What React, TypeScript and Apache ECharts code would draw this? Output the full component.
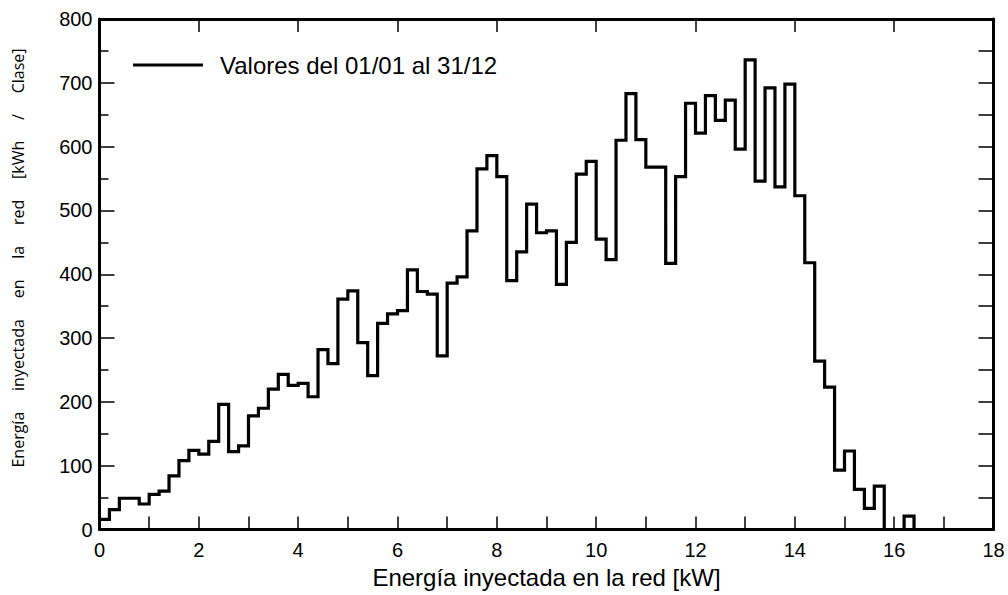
import React, { useEffect, useRef } from "react";
import * as echarts from "echarts";

// Histogram bins: start (kW) and width (kW)
const binStart = 0;
const binWidth = 0.2;
// Energy per class [kWh / Clase], one value per 0.2 kW bin starting at 0 kW
const energyValues = [
  16, 31, 49, 49, 40, 55, 60, 84, 108, 124,
  118, 138, 196, 122, 131, 178, 190, 220, 243, 226,
  229, 208, 282, 260, 361, 374, 293, 241, 323, 338,
  343, 407, 373, 369, 272, 386, 396, 468, 565, 586,
  553, 390, 435, 510, 465, 468, 384, 450, 557, 577,
  455, 423, 610, 683, 611, 568, 568, 417, 553, 668,
  621, 680, 641, 673, 596, 736, 546, 692, 537, 698,
  523, 418, 264, 223, 93, 123, 63, 33, 68, 0,
  0, 21,
];
const seriesName = "Valores del 01/01 al 31/12";
const xAxisName = "Energía inyectada en la red [kW]";
const yAxisName = "Energía     inyectada     en     la     red     [kWh     /     Clase]";
const xMin = 0;
const xMax = 18;
const yMin = 0;
const yMax = 800;

export default function App() {
  const ref = useRef<HTMLDivElement>(null);
  useEffect(() => {
    if (!ref.current) return;
    const chart = echarts.init(ref.current, undefined, { renderer: "svg" });
    const pts: [number, number][] = energyValues.map((v, i) => [
      +(binStart + i * binWidth).toFixed(2),
      v,
    ]);
    pts.push([+(binStart + energyValues.length * binWidth).toFixed(2), 0]);

    const font = "'Liberation Sans', Arial, sans-serif";
    const axisLine = { show: true, onZero: false, lineStyle: { color: "#000", width: 3 } };
    const tickStyle = { color: "#000", width: 1.5 };

    chart.setOption({
      animation: false,
      backgroundColor: "#fff",
      grid: { left: 99.5, right: 14.5, top: 19, bottom: 65.5, containLabel: false },
      legend: {
        show: true,
        left: 128,
        top: 48,
        icon: "rect",
        itemWidth: 70,
        itemHeight: 3,
        itemGap: 10,
        data: [seriesName],
        itemStyle: { color: "#000" },
        textStyle: {
          fontFamily: font,
          fontSize: 24,
          color: "#000",
          padding: [0, 0, 0, 12],
        },
      },
      xAxis: [
        {
          type: "value",
          position: "bottom",
          min: xMin,
          max: xMax,
          interval: 2,
          axisLine,
          axisTick: { show: true, inside: true, length: 13, lineStyle: tickStyle },
          minorTick: { show: true, splitNumber: 2, length: 13, lineStyle: tickStyle },
          splitLine: { show: false },
          axisLabel: { fontFamily: font, fontSize: 20, color: "#000", margin: 10 },
          name: xAxisName,
          nameLocation: "middle",
          nameGap: 36,
          nameTextStyle: { fontFamily: font, fontSize: 24, color: "#000" },
        },
        {
          type: "value",
          position: "top",
          min: xMin,
          max: xMax,
          interval: 2,
          axisLine,
          axisTick: { show: true, inside: true, length: 13, lineStyle: tickStyle },
          axisLabel: { show: false },
          splitLine: { show: false },
        },
      ],
      yAxis: [
        {
          type: "value",
          position: "left",
          min: yMin,
          max: yMax,
          interval: 100,
          axisLine,
          axisTick: { show: true, inside: true, length: 15, lineStyle: tickStyle },
          minorTick: { show: true, splitNumber: 2, length: 9, lineStyle: tickStyle },
          splitLine: { show: false },
          axisLabel: { fontFamily: font, fontSize: 20, color: "#000", margin: 7 },
        },
        {
          type: "value",
          position: "right",
          min: yMin,
          max: yMax,
          interval: 50,
          axisLine,
          axisTick: { show: true, inside: true, length: 15, lineStyle: tickStyle },
          axisLabel: { show: false },
          splitLine: { show: false },
        },
      ],
      graphic: [
        {
          type: "text",
          x: 18,
          y: 258,
          rotation: Math.PI / 2,
          style: {
            text: yAxisName,
            fontFamily: "'Open Sans', 'Noto Sans', sans-serif",
            fontSize: 16,
            fill: "#000",
            align: "center",
            verticalAlign: "middle",
          },
        },
      ],
      series: [
        {
          name: seriesName,
          type: "line",
          step: "end",
          data: pts,
          xAxisIndex: 0,
          yAxisIndex: 0,
          symbol: "none",
          showSymbol: false,
          lineStyle: { color: "#000", width: 3.2, join: "miter" },
          itemStyle: { color: "#000" },
        },
      ],
    });
    return () => chart.dispose();
  }, []);
  return (
    <div
      ref={ref}
      style={{ position: "fixed", left: 0, top: 0, width: 1008, height: 595, background: "#fff" }}
    />
  );
}
